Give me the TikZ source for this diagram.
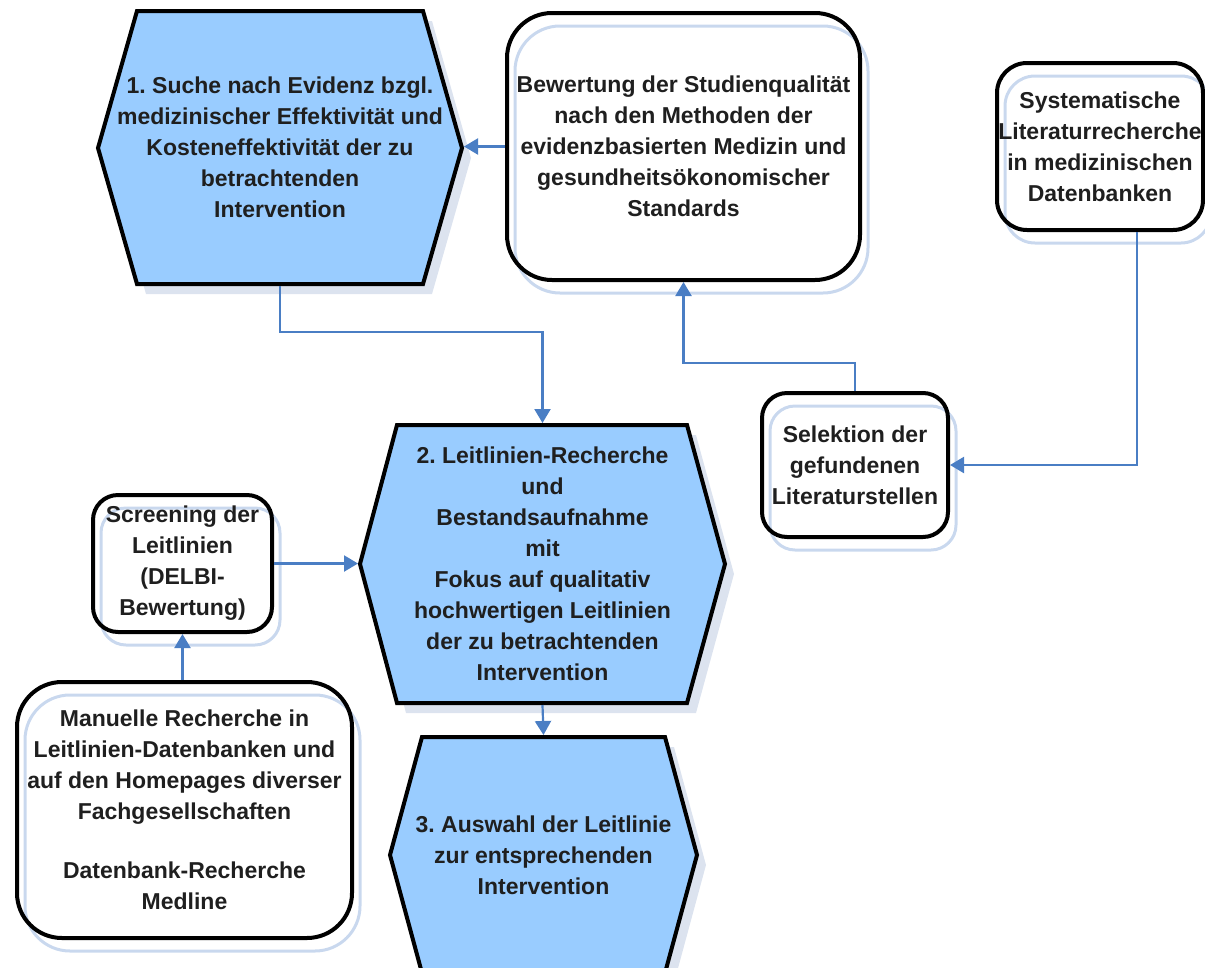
\documentclass[tikz,border=0pt]{standalone}
\usepackage{fontspec}
\setmainfont{Liberation Sans}
\usetikzlibrary{arrows.meta,shadows}
\definecolor{hexblue}{HTML}{99CCFF}
\definecolor{linkblue}{HTML}{4A7EC4}
\definecolor{shadeblue}{HTML}{DCE3EF}
\definecolor{ghostblue}{HTML}{C9D8EE}
\frenchspacing
\begin{document}
\begin{tikzpicture}[x=1pt,y=-1pt,
    every node/.style={align=center,text=black!88,
      font=\bfseries\fontsize{23}{31}\selectfont},
    box/.style={draw=black,line width=4pt,rounded corners=#1,inner sep=0pt,
      general shadow={draw=ghostblue,line width=3pt,
        shadow xshift=8pt,shadow yshift=-13pt}},
    box/.default=30pt,
    hexa/.style={fill=hexblue,draw=black,line width=4pt,line join=miter,
      general shadow={fill=shadeblue,shadow xshift=9pt,shadow yshift=-10pt}},
    hextext/.style={inner sep=0pt,outer sep=2pt},
    link/.style={draw=linkblue,line width=2.2pt,
      -{Triangle[length=14pt,width=16pt]}}]
  \clip (0,0) rectangle (1205,967);

  % hexagons (process steps)
  \path[hexa] (137,11) -- (423,11) -- (462,148) -- (423,284)
    -- (137,284) -- (98,148) -- cycle;
  \path[hexa] (397,425) -- (687,425) -- (725,564) -- (687,703)
    -- (397,703) -- (360,564) -- cycle;
  \path[hexa] (422,737) -- (665,737) -- (697,855) -- (665,973)
    -- (422,973) -- (390,855) -- cycle;

  \node[hextext,minimum width=364pt,minimum height=273pt] (hex1) at (280,147.5)
    {1. Suche nach Evidenz bzgl.\\medizinischer Effektivität und\\Kosteneffektivität der zu\\betrachtenden\\Intervention};
  \node[hextext,minimum width=365pt,minimum height=278pt] (hex2) at (542.5,564)
    {2. Leitlinien-Recherche\\und\\Bestandsaufnahme\\mit\\Fokus auf qualitativ\\hochwertigen Leitlinien\\der zu betrachtenden\\Intervention};
  \node[hextext,minimum width=307pt,minimum height=236pt] (hex3) at (543.5,855)
    {3. Auswahl der Leitlinie\\zur entsprechenden\\Intervention};

  % rounded boxes
  \node[box=45pt,minimum width=353pt,minimum height=267pt] (bew) at (683.5,146.5)
    {Bewertung der Studienqualität\\nach den Methoden der\\evidenzbasierten Medizin und\\gesundheitsökonomischer\\Standards};
  \node[box=30pt,minimum width=206pt,minimum height=167pt] (sys) at (1100,146.5)
    {Systematische\\Literaturrecherche\\in medizinischen\\Datenbanken};
  \node[box=25pt,minimum width=186pt,minimum height=144pt] (sel) at (855,465)
    {Selektion der\\gefundenen\\Literaturstellen};
  \node[box=25pt,minimum width=179pt,minimum height=137pt] (scr) at (182.5,563.5)
    {Screening der\\Leitlinien\\(DELBI-\\Bewertung)};
  \node[box=45pt,minimum width=335pt,minimum height=256pt] (man) at (184.5,810)
    {Manuelle Recherche in\\Leitlinien-Datenbanken und\\auf den Homepages diverser\\Fachgesellschaften\\[28pt]Datenbank-Recherche\\Medline};

  % connectors
  \begin{scope}[link]
    \draw (bew.west) -- (bew.west -| hex1.east);
    \draw (hex1.south) -- ++(0,46) -| (hex2.north);
    \draw ([xshift=37pt]sys.south) |- (sel.east);
    \draw (sel.north) -- ++(0,-28) -| (bew.south);
    \draw (scr.east) -- (scr.east -| hex2.west);
    \draw (man.north -| scr.south) -- (scr.south);
    \draw (hex2.south) -- (hex3.north);
  \end{scope}
\end{tikzpicture}
\end{document}
